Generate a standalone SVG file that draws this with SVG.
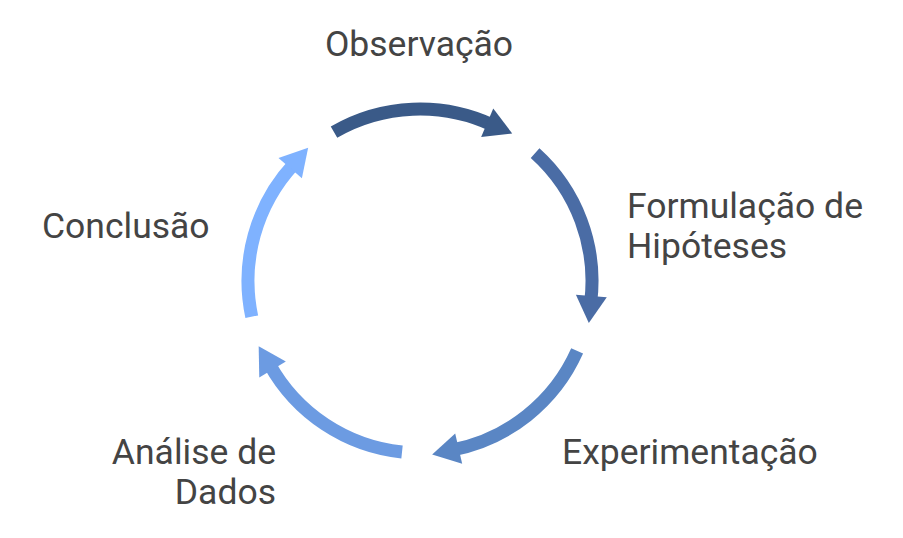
<svg xmlns="http://www.w3.org/2000/svg" width="903" height="538" viewBox="0 0 903 538">
<style>
  .lbl { font-family: Roboto, "Liberation Sans", sans-serif; font-size: 35.5px; fill: #444444; }
  .arc { fill: none; stroke-width: 13; stroke-linecap: butt; }
</style>
<rect width="903" height="538" fill="#ffffff"/>
<g id="connectors">
  <g id="arrow-observacao">
    <path class="arc" stroke="#3A5A88" d="M334,132.04 A172,172 0 0 1 492.69,125.11"/>
    <polygon fill="#3A5A88" points="493.26,108.41 512.21,133.44 481.15,136.94"/>
  </g>
  <g id="arrow-formulacao">
    <path class="arc" stroke="#4A6CA5" d="M535.09,153.18 A172,172 0 0 1 590.72,301.96"/>
    <polygon fill="#4A6CA5" points="606.79,297.34 588.83,323.09 575.90,294.64"/>
  </g>
  <g id="arrow-experimentacao">
    <path class="arc" stroke="#5A86C4" d="M577.13,350.96 A172,172 0 0 1 452.82,449.84"/>
    <polygon fill="#5A86C4" points="462.18,463.69 432.14,454.58 455.20,433.49"/>
  </g>
  <g id="arrow-analise">
    <path class="arc" stroke="#6C9BE2" d="M402.02,452.06 A172,172 0 0 1 269.57,364.39"/>
    <polygon fill="#6C9BE2" points="259.28,377.57 258.67,346.18 285.85,361.60"/>
  </g>
  <g id="arrow-conclusao">
    <path class="arc" stroke="#7FB2FF" d="M251.76,316.76 A172,172 0 0 1 294.21,163.70"/>
    <polygon fill="#7FB2FF" points="278.49,157.99 308.15,147.71 301.89,178.33"/>
  </g>
</g>
<g id="node-observacao">
  <text class="lbl" x="419" y="56" text-anchor="middle">Observação</text>
</g>
<g id="node-formulacao">
  <text class="lbl" x="627" y="218">Formulação de</text>
  <text class="lbl" x="627" y="258">Hipóteses</text>
</g>
<g id="node-experimentacao">
  <text class="lbl" x="562" y="464">Experimentação</text>
</g>
<g id="node-analise">
  <text class="lbl" x="276" y="464" text-anchor="end">Análise de</text>
  <text class="lbl" x="276" y="504" text-anchor="end">Dados</text>
</g>
<g id="node-conclusao">
  <text class="lbl" x="42" y="238">Conclusão</text>
</g>
</svg>
